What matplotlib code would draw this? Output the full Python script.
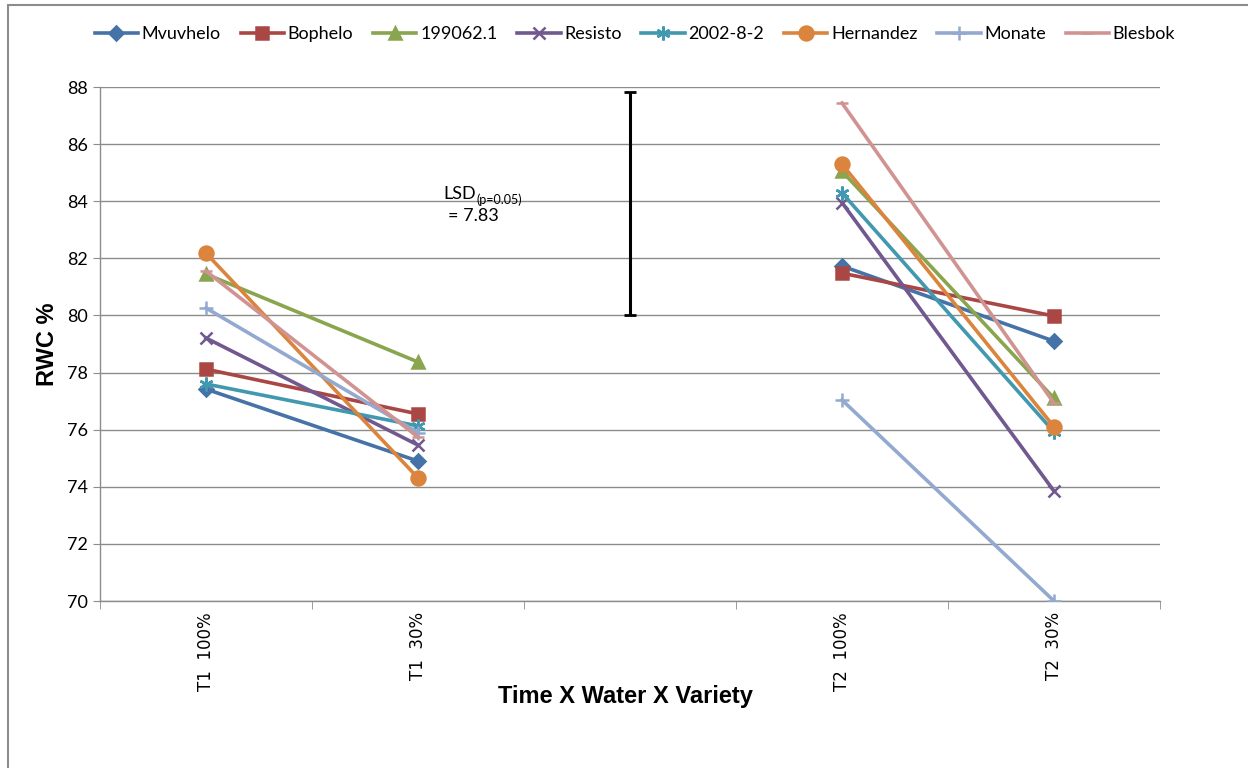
import matplotlib.pyplot as plt
import matplotlib.patches as mpatches
import numpy as np

OUT = 'out.png'

# ── Data ─────────────────────────────────────────────────────────────────────
categories = ['T1  100%', 'T1  30%', '', 'T2  100%', 'T2  30%']
varieties  = ['Mvuvhelo', 'Bophelo', '199062.1', 'Resisto',
              '2002-8-2', 'Hernandez', 'Monate', 'Blesbok']

# RWC % per variety: (T1 100%, T1 30%) and (T2 100%, T2 30%)
t1_rwc = {
    'Mvuvhelo':  [77.42, 74.90],
    'Bophelo':   [78.12, 76.55],
    '199062.1':  [81.45, 78.37],
    'Resisto':   [79.21, 75.46],
    '2002-8-2':  [77.60, 76.13],
    'Hernandez': [82.18, 74.31],
    'Monate':    [80.26, 75.90],
    'Blesbok':   [81.55, 75.74],
}
t2_rwc = {
    'Mvuvhelo':  [81.73, 79.10],
    'Bophelo':   [81.48, 79.98],
    '199062.1':  [85.05, 77.10],
    'Resisto':   [83.95, 73.85],
    '2002-8-2':  [84.29, 75.92],
    'Hernandez': [85.30, 76.10],
    'Monate':    [77.04, 70.00],
    'Blesbok':   [87.44, 76.93],
}

lsd_base  = 80.0
lsd_value = 7.83

STYLE = {
    'Mvuvhelo':  dict(color='#4572A7', marker='D', ms=7),
    'Bophelo':   dict(color='#AA4643', marker='s', ms=9),
    '199062.1':  dict(color='#89A54E', marker='^', ms=9),
    'Resisto':   dict(color='#71588F', marker='x', ms=9),
    '2002-8-2':  dict(color='#4198AF', marker=(6, 2, 0), ms=10),
    'Hernandez': dict(color='#DB843D', marker='o', ms=10),
    'Monate':    dict(color='#93A9CF', marker='+', ms=10),
    'Blesbok':   dict(color='#D19392', marker='_', ms=8),
}

# ── Figure ───────────────────────────────────────────────────────────────────
plt.rcParams['font.family'] = ['Lato', 'DejaVu Sans']

fig = plt.figure(figsize=(12.48, 7.68), dpi=100)
fig.patch.set_facecolor('white')
fig.patches.append(mpatches.Rectangle((8 / 1248, -0.02), 1.1, (768 - 5) / 768 + 0.02,
                                      transform=fig.transFigure, fill=False,
                                      edgecolor='#8C8C8C', linewidth=1.5))

ax = fig.add_axes([100 / 1248, 167 / 768, 1060 / 1248, 514 / 768])

x_pos = np.arange(len(categories))
for name in varieties:
    st = STYLE[name]
    kw = dict(color=st['color'], marker=st['marker'], markersize=st['ms'],
              linewidth=2.6, markeredgewidth=1.8, zorder=3)
    ax.plot(x_pos[[0, 1]], t1_rwc[name], label=name, **kw)
    ax.plot(x_pos[[3, 4]], t2_rwc[name], **kw)

# LSD bar in the empty middle slot
ax.errorbar([x_pos[2]], [lsd_base + lsd_value / 2], yerr=[lsd_value / 2],
            fmt='none', ecolor='black', elinewidth=2.2, capsize=4, capthick=2,
            zorder=4)
lsd_txt = ax.text(1.12, 84.25, 'LSD', fontsize=13, ha='left', va='center')
ax.annotate('(p=0.05)', xy=(1, 0), xycoords=lsd_txt, xytext=(0.5, -3),
            textcoords='offset points', fontsize=9, ha='left', va='bottom')
ax.text(1.14, 83.5, f'= {lsd_value:.2f}', fontsize=13, ha='left', va='center')

# ── Axes ─────────────────────────────────────────────────────────────────────
ax.set_xlim(-0.5, len(categories) - 0.5)
ax.set_ylim(70, 88)
ax.set_yticks(np.arange(70, 89, 2))
ax.tick_params(axis='y', labelsize=13, length=5, color='#8C8C8C')
ax.grid(axis='y', color='#8C8C8C', linewidth=1.0)
ax.set_axisbelow(True)

ax.set_xticks(x_pos)
ax.set_xticklabels(categories, rotation=90, fontsize=12,
                   family=['DejaVu Sans'])
ax.tick_params(axis='x', length=0, pad=8)
ax.set_xticks(np.arange(-0.5, len(categories), 1), minor=True)
ax.tick_params(axis='x', which='minor', length=6, color='#8C8C8C')

for side in ['top', 'right']:
    ax.spines[side].set_visible(False)
for side in ['left', 'bottom']:
    ax.spines[side].set_color('#8C8C8C')
    ax.spines[side].set_linewidth(1.0)

ax.set_ylabel('RWC %', fontsize=17, fontweight='bold',
              family=['Liberation Sans', 'DejaVu Sans'], labelpad=6)
fig.text(625 / 1248, 1 - 697 / 768, 'Time X Water X Variety', fontsize=17,
         fontweight='bold', ha='center', va='center',
         family=['Liberation Sans Narrow', 'Liberation Sans', 'DejaVu Sans'])

fig.legend(*ax.get_legend_handles_labels(), loc='center',
           bbox_to_anchor=(635 / 1248, 1 - 34 / 768), ncol=8, frameon=False,
           fontsize=13, handlelength=2.4, handletextpad=0.2, columnspacing=1.1)

plt.savefig(OUT, dpi=100)
